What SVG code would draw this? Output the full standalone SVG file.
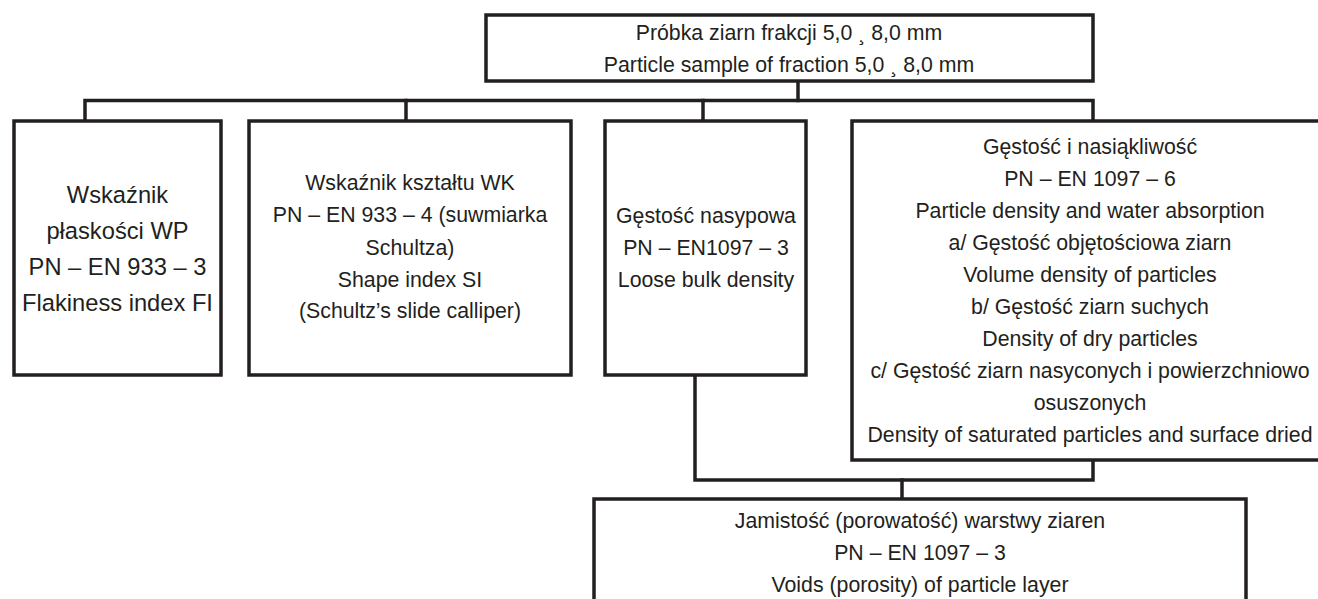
<svg xmlns="http://www.w3.org/2000/svg" width="1318" height="599" viewBox="0 0 1318 599">
<style>
.box{fill:#fff;stroke:#231f20;stroke-width:3.5}
.con{fill:none;stroke:#231f20;stroke-width:3.5;stroke-linejoin:miter;stroke-linecap:square}
text{font-family:"Liberation Sans",Arial,sans-serif;font-size:21.3px;fill:#231f20;text-anchor:middle}
.big{font-size:23.7px}
</style>
<rect width="1318" height="599" fill="#fff"/>
<g id="connectors">
<path class="con" d="M798,81 V100.5"/>
<path class="con" d="M85,121 V100.5 H1093 V121"/>
<path class="con" d="M406,100.5 V121"/>
<path class="con" d="M703,100.5 V121"/>
<path class="con" d="M695,375 V480 H1093 V460"/>
<path class="con" d="M902,480 V499"/>
</g>
<g id="top">
<rect class="box" x="486" y="15" width="607" height="66"/>
<text x="789" y="40">Próbka ziarn frakcji 5,0 ¸ 8,0 mm</text>
<text x="789" y="72">Particle sample of fraction 5,0 ¸ 8,0 mm</text>
</g>
<g id="flakiness">
<rect class="box" x="14" y="121" width="207" height="254"/>
<text class="big" x="117.5" y="203">Wskaźnik</text>
<text class="big" x="117.5" y="239">płaskości WP</text>
<text class="big" x="117.5" y="275">PN – EN 933 – 3</text>
<text class="big" x="117.5" y="311">Flakiness index FI</text>
</g>
<g id="shape">
<rect class="box" x="249" y="121" width="322" height="254"/>
<text x="410" y="190">Wskaźnik kształtu WK</text>
<text x="410" y="222">PN – EN 933 – 4 (suwmiarka</text>
<text x="410" y="255">Schultza)</text>
<text x="410" y="287">Shape index SI</text>
<text x="410" y="318">(Schultz’s slide calliper)</text>
</g>
<g id="bulk">
<rect class="box" x="605" y="121" width="201" height="254"/>
<text x="706" y="223">Gęstość nasypowa</text>
<text x="706" y="255">PN – EN1097 – 3</text>
<text x="706" y="287">Loose bulk density</text>
</g>
<g id="density">
<rect class="box" x="852" y="121" width="480" height="339"/>
<text x="1090" y="154">Gęstość i nasiąkliwość</text>
<text x="1090" y="186">PN – EN 1097 – 6</text>
<text x="1090" y="218">Particle density and water absorption</text>
<text x="1090" y="250">a/ Gęstość objętościowa ziarn</text>
<text x="1090" y="282">Volume density of particles</text>
<text x="1090" y="314">b/ Gęstość ziarn suchych</text>
<text x="1090" y="346">Density of dry particles</text>
<text x="1090" y="378">c/ Gęstość ziarn nasyconych i powierzchniowo</text>
<text x="1090" y="410">osuszonych</text>
<text x="1090" y="442">Density of saturated particles and surface dried</text>
</g>
<g id="voids">
<rect class="box" x="594" y="499" width="652" height="130"/>
<text x="920" y="528">Jamistość (porowatość) warstwy ziaren</text>
<text x="920" y="560">PN – EN 1097 – 3</text>
<text x="920" y="592">Voids (porosity) of particle layer</text>
</g>
</svg>
